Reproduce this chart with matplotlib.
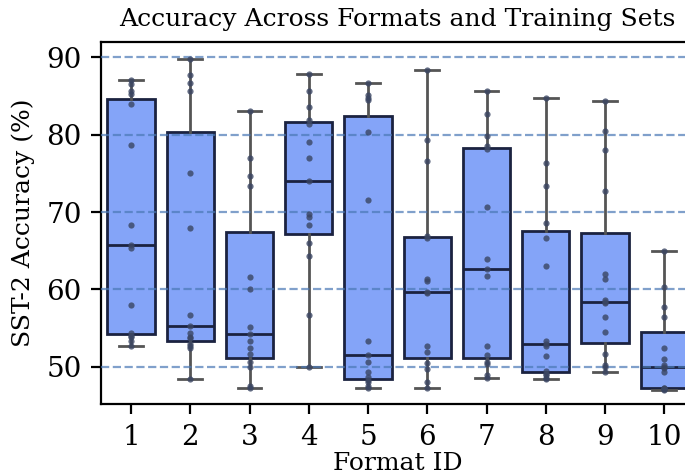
import numpy as np
import matplotlib
matplotlib.use("Agg")
import matplotlib.pyplot as plt

format_ids = [1, 2, 3, 4, 5, 6, 7, 8, 9, 10]

acc_f1 = [52.7, 53.3, 53.9, 54.0, 54.4, 58.0, 65.4, 65.7, 68.3, 78.6, 84.0, 85.2, 85.6, 86.5, 87.0]
acc_f2 = [48.4, 52.5, 52.7, 52.9, 53.7, 53.9, 54.4, 55.3, 56.7, 68.0, 75.0, 85.6, 86.6, 87.7, 89.8]
acc_f3 = [47.3, 47.6, 50.0, 50.7, 51.7, 52.5, 53.3, 54.3, 55.1, 60.0, 61.6, 73.3, 74.7, 77.0, 83.0]
acc_f4 = [50.0, 56.7, 64.3, 66.0, 68.3, 69.3, 69.7, 74.0, 77.0, 79.0, 81.3, 81.9, 83.6, 85.6, 87.8]
acc_f5 = [47.3, 47.6, 48.0, 48.3, 48.7, 49.3, 50.6, 51.6, 53.3, 71.6, 80.3, 84.5, 84.7, 85.1, 86.7]
acc_f6 = [47.3, 48.0, 49.7, 50.5, 51.9, 52.7, 59.6, 59.7, 61.1, 61.4, 66.6, 66.9, 76.6, 79.3, 88.3]
acc_f7 = [48.6, 49.0, 50.4, 50.7, 51.6, 52.7, 61.7, 62.7, 63.9, 70.7, 78.1, 78.5, 79.8, 82.7, 85.6]
acc_f8 = [48.4, 48.6, 48.9, 49.1, 49.5, 51.4, 52.7, 53.0, 53.3, 63.0, 66.6, 68.6, 73.3, 76.3, 84.7]
acc_f9 = [49.4, 50.0, 50.3, 51.7, 54.5, 56.4, 58.2, 58.4, 58.6, 61.3, 62.0, 72.7, 78.0, 80.4, 84.3]
acc_f10 = [47.0, 47.1, 47.2, 47.3, 47.3, 49.4, 49.9, 50.0, 50.3, 51.0, 52.5, 56.4, 57.7, 60.3, 65.0]

data = [acc_f1, acc_f2, acc_f3, acc_f4, acc_f5, acc_f6, acc_f7, acc_f8, acc_f9, acc_f10]

plt.rcParams['font.family'] = ['DejaVu Serif']

fig = plt.figure(figsize=(3.425, 2.38), dpi=200)
# axes run past the right edge, the reference is cropped there
ax = fig.add_axes([0.148, 0.151, 0.865, 0.760])

pos = np.arange(len(data))
box_edge = '#1b2240'
whisk = '#555555'
bp = ax.boxplot(data, positions=pos, widths=0.8, patch_artist=True,
                showfliers=False,
                boxprops=dict(facecolor='#84a4f8', edgecolor=box_edge, linewidth=1.0),
                medianprops=dict(color=box_edge, linewidth=1.0),
                whiskerprops=dict(color=whisk, linewidth=1.0),
                capprops=dict(color=whisk, linewidth=1.0),
                zorder=2)

for i, vals in enumerate(data):
    ax.scatter(np.full(len(vals), i), vals, s=5, color='#3a4562', alpha=0.8,
               linewidths=0, zorder=4)

ticks_y = [50, 60, 70, 80, 90]
for t in ticks_y:
    ax.axhline(t, color='#4a78b5', linestyle='--', linewidth=0.8, alpha=0.7, zorder=3)

ax.set_xlim(-0.5, 9.5)
ax.set_ylim(45.2, 91.9)
ax.set_yticks(ticks_y)
ax.set_xticks(pos)
ax.set_xticklabels([str(f) for f in format_ids])
ax.tick_params(labelsize=10)

ax.set_title('Accuracy Across Formats and Training Sets', fontsize=9)
ax.set_xlabel('Format ID', fontsize=9, labelpad=0.5)
ax.set_ylabel('SST-2 Accuracy (%)', fontsize=9)

fig.savefig('out.png', dpi=200)
